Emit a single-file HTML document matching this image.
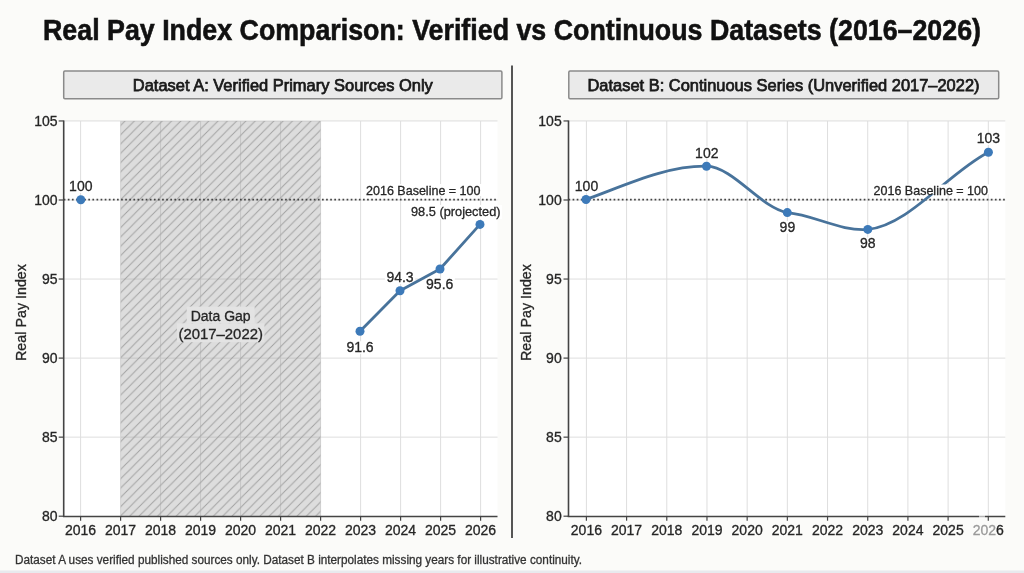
<!DOCTYPE html>
<html><head><meta charset="utf-8"><title>Real Pay Index Comparison</title>
<style>
html,body{margin:0;padding:0;background:#fbfbf9;}
body{width:1024px;height:573px;overflow:hidden;}
svg{display:block;will-change:transform;filter:blur(0.3px);font-family:"Liberation Sans",Arial,sans-serif;}
</style></head><body>
<svg width="1024" height="573" viewBox="0 0 1024 573">
<defs>
<pattern id="hatch" patternUnits="userSpaceOnUse" width="9.3" height="9.3" patternTransform="translate(4.2,0)">
<rect width="9.3" height="9.3" fill="rgb(128,128,128)" fill-opacity="0.27"/>
<path d="M-2,2 L2,-2 M0,9.3 L9.3,0 M7.3,11.3 L11.3,7.3" stroke="#a0a0a0" stroke-width="0.95"/>
</pattern>
</defs>
<rect width="1024" height="573" fill="#fbfbf9"/>
<rect x="0" y="570.5" width="1024" height="2.5" fill="#e8eaee"/>
<rect x="63.70" y="120.95" width="433.80" height="395.25" fill="#ffffff"/>
<line x1="80.60" y1="120.95" x2="80.60" y2="516.20" stroke="#dedede" stroke-width="1"/>
<line x1="120.60" y1="120.95" x2="120.60" y2="516.20" stroke="#dedede" stroke-width="1"/>
<line x1="160.60" y1="120.95" x2="160.60" y2="516.20" stroke="#dedede" stroke-width="1"/>
<line x1="200.60" y1="120.95" x2="200.60" y2="516.20" stroke="#dedede" stroke-width="1"/>
<line x1="240.60" y1="120.95" x2="240.60" y2="516.20" stroke="#dedede" stroke-width="1"/>
<line x1="280.60" y1="120.95" x2="280.60" y2="516.20" stroke="#dedede" stroke-width="1"/>
<line x1="320.60" y1="120.95" x2="320.60" y2="516.20" stroke="#dedede" stroke-width="1"/>
<line x1="360.60" y1="120.95" x2="360.60" y2="516.20" stroke="#dedede" stroke-width="1"/>
<line x1="400.60" y1="120.95" x2="400.60" y2="516.20" stroke="#dedede" stroke-width="1"/>
<line x1="440.60" y1="120.95" x2="440.60" y2="516.20" stroke="#dedede" stroke-width="1"/>
<line x1="480.60" y1="120.95" x2="480.60" y2="516.20" stroke="#dedede" stroke-width="1"/>
<line x1="63.70" y1="120.95" x2="497.50" y2="120.95" stroke="#dedede" stroke-width="1"/>
<line x1="63.70" y1="200.00" x2="497.50" y2="200.00" stroke="#dedede" stroke-width="1"/>
<line x1="63.70" y1="279.05" x2="497.50" y2="279.05" stroke="#dedede" stroke-width="1"/>
<line x1="63.70" y1="358.10" x2="497.50" y2="358.10" stroke="#dedede" stroke-width="1"/>
<line x1="63.70" y1="437.15" x2="497.50" y2="437.15" stroke="#dedede" stroke-width="1"/>
<rect x="120.60" y="120.95" width="200.00" height="395.25" fill="url(#hatch)"/>
<rect x="186.74" y="306.60" width="67.92" height="16.70" fill="#e3e3e3"/><text x="220.70" y="321.10" font-size="14" text-anchor="middle" font-weight="normal" fill="#262626" stroke="#262626" stroke-width="0.3">Data Gap</text>
<rect x="176.95" y="323.30" width="87.50" height="18.90" fill="#e3e3e3"/><text x="220.70" y="338.70" font-size="14" text-anchor="middle" font-weight="normal" fill="#262626" textLength="84.5" lengthAdjust="spacingAndGlyphs" stroke="#262626" stroke-width="0.3">(2017–2022)</text>
<line x1="63.70" y1="199.7" x2="497.50" y2="199.7" stroke="#444444" stroke-width="1.7" stroke-dasharray="1.7 2.4"/>
<rect x="364.50" y="184.00" width="117.50" height="12.00" fill="#ffffff"/><text x="366.00" y="194.50" font-size="12.6" text-anchor="start" font-weight="normal" fill="#262626" textLength="114.5" lengthAdjust="spacingAndGlyphs" stroke="#262626" stroke-width="0.3">2016 Baseline = 100</text>
<line x1="63.70" y1="120.45" x2="63.70" y2="517.00" stroke="#444444" stroke-width="1.6"/>
<line x1="62.90" y1="516.50" x2="497.50" y2="516.50" stroke="#444444" stroke-width="1.6"/>
<line x1="58.70" y1="120.95" x2="63.70" y2="120.95" stroke="#444444" stroke-width="1.2"/>
<text x="57.50" y="125.85" font-size="14" text-anchor="end" font-weight="normal" fill="#262626" stroke="#262626" stroke-width="0.3">105</text>
<line x1="58.70" y1="200.00" x2="63.70" y2="200.00" stroke="#444444" stroke-width="1.2"/>
<text x="57.50" y="204.90" font-size="14" text-anchor="end" font-weight="normal" fill="#262626" stroke="#262626" stroke-width="0.3">100</text>
<line x1="58.70" y1="279.05" x2="63.70" y2="279.05" stroke="#444444" stroke-width="1.2"/>
<text x="57.50" y="283.95" font-size="14" text-anchor="end" font-weight="normal" fill="#262626" stroke="#262626" stroke-width="0.3">95</text>
<line x1="58.70" y1="358.10" x2="63.70" y2="358.10" stroke="#444444" stroke-width="1.2"/>
<text x="57.50" y="363.00" font-size="14" text-anchor="end" font-weight="normal" fill="#262626" stroke="#262626" stroke-width="0.3">90</text>
<line x1="58.70" y1="437.15" x2="63.70" y2="437.15" stroke="#444444" stroke-width="1.2"/>
<text x="57.50" y="442.05" font-size="14" text-anchor="end" font-weight="normal" fill="#262626" stroke="#262626" stroke-width="0.3">85</text>
<line x1="58.70" y1="516.20" x2="63.70" y2="516.20" stroke="#444444" stroke-width="1.2"/>
<text x="57.50" y="521.10" font-size="14" text-anchor="end" font-weight="normal" fill="#262626" stroke="#262626" stroke-width="0.3">80</text>
<line x1="80.60" y1="516.20" x2="80.60" y2="520.70" stroke="#444444" stroke-width="1.2"/>
<text x="80.60" y="534.70" font-size="14" text-anchor="middle" font-weight="normal" fill="#262626" stroke="#262626" stroke-width="0.3">2016</text>
<line x1="120.60" y1="516.20" x2="120.60" y2="520.70" stroke="#444444" stroke-width="1.2"/>
<text x="120.60" y="534.70" font-size="14" text-anchor="middle" font-weight="normal" fill="#262626" stroke="#262626" stroke-width="0.3">2017</text>
<line x1="160.60" y1="516.20" x2="160.60" y2="520.70" stroke="#444444" stroke-width="1.2"/>
<text x="160.60" y="534.70" font-size="14" text-anchor="middle" font-weight="normal" fill="#262626" stroke="#262626" stroke-width="0.3">2018</text>
<line x1="200.60" y1="516.20" x2="200.60" y2="520.70" stroke="#444444" stroke-width="1.2"/>
<text x="200.60" y="534.70" font-size="14" text-anchor="middle" font-weight="normal" fill="#262626" stroke="#262626" stroke-width="0.3">2019</text>
<line x1="240.60" y1="516.20" x2="240.60" y2="520.70" stroke="#444444" stroke-width="1.2"/>
<text x="240.60" y="534.70" font-size="14" text-anchor="middle" font-weight="normal" fill="#262626" stroke="#262626" stroke-width="0.3">2020</text>
<line x1="280.60" y1="516.20" x2="280.60" y2="520.70" stroke="#444444" stroke-width="1.2"/>
<text x="280.60" y="534.70" font-size="14" text-anchor="middle" font-weight="normal" fill="#262626" stroke="#262626" stroke-width="0.3">2021</text>
<line x1="320.60" y1="516.20" x2="320.60" y2="520.70" stroke="#444444" stroke-width="1.2"/>
<text x="320.60" y="534.70" font-size="14" text-anchor="middle" font-weight="normal" fill="#262626" stroke="#262626" stroke-width="0.3">2022</text>
<line x1="360.60" y1="516.20" x2="360.60" y2="520.70" stroke="#444444" stroke-width="1.2"/>
<text x="360.60" y="534.70" font-size="14" text-anchor="middle" font-weight="normal" fill="#262626" stroke="#262626" stroke-width="0.3">2023</text>
<line x1="400.60" y1="516.20" x2="400.60" y2="520.70" stroke="#444444" stroke-width="1.2"/>
<text x="400.60" y="534.70" font-size="14" text-anchor="middle" font-weight="normal" fill="#262626" stroke="#262626" stroke-width="0.3">2024</text>
<line x1="440.60" y1="516.20" x2="440.60" y2="520.70" stroke="#444444" stroke-width="1.2"/>
<text x="440.60" y="534.70" font-size="14" text-anchor="middle" font-weight="normal" fill="#262626" stroke="#262626" stroke-width="0.3">2025</text>
<line x1="480.60" y1="516.20" x2="480.60" y2="520.70" stroke="#444444" stroke-width="1.2"/>
<text x="480.60" y="534.70" font-size="14" text-anchor="middle" font-weight="normal" fill="#262626" stroke="#262626" stroke-width="0.3">2026</text>
<text transform="translate(26.30,312.5) rotate(-90)" x="0" y="0" font-size="14.3" text-anchor="middle" fill="#262626" stroke="#262626" stroke-width="0.3">Real Pay Index</text>
<rect x="67.62" y="180.28" width="26.36" height="12.60" fill="#ffffff"/>
<rect x="344.88" y="341.28" width="30.25" height="12.60" fill="#ffffff"/>
<rect x="384.88" y="271.48" width="30.25" height="12.60" fill="#ffffff"/>
<rect x="424.58" y="277.88" width="30.25" height="12.60" fill="#ffffff"/>
<rect x="409.50" y="205.00" width="92.50" height="14.00" fill="#ffffff"/>
<polyline points="360,331.3 400,290.8 440,269 480,224.4" fill="none" stroke="#48739b" stroke-width="2.8" stroke-linejoin="round"/>
<circle cx="80.8" cy="199.7" r="4.5" fill="#3d7ab9"/>
<circle cx="360" cy="331.3" r="4.5" fill="#3d7ab9"/>
<circle cx="400" cy="290.8" r="4.5" fill="#3d7ab9"/>
<circle cx="440" cy="269" r="4.5" fill="#3d7ab9"/>
<circle cx="480" cy="224.4" r="4.5" fill="#3d7ab9"/>
<text x="80.80" y="191.20" font-size="14" text-anchor="middle" font-weight="normal" fill="#262626" stroke="#262626" stroke-width="0.3">100</text>
<text x="360.00" y="352.20" font-size="14" text-anchor="middle" font-weight="normal" fill="#262626" stroke="#262626" stroke-width="0.3">91.6</text>
<text x="400.00" y="282.40" font-size="14" text-anchor="middle" font-weight="normal" fill="#262626" stroke="#262626" stroke-width="0.3">94.3</text>
<text x="439.70" y="288.80" font-size="14" text-anchor="middle" font-weight="normal" fill="#262626" stroke="#262626" stroke-width="0.3">95.6</text>
<text x="411.00" y="216.00" font-size="12.6" text-anchor="start" font-weight="normal" fill="#262626" textLength="89.5" lengthAdjust="spacingAndGlyphs" stroke="#262626" stroke-width="0.3">98.5 (projected)</text>
<rect x="568.50" y="120.95" width="436.80" height="395.25" fill="#ffffff"/>
<line x1="586.40" y1="120.95" x2="586.40" y2="516.20" stroke="#dedede" stroke-width="1"/>
<line x1="626.59" y1="120.95" x2="626.59" y2="516.20" stroke="#dedede" stroke-width="1"/>
<line x1="666.78" y1="120.95" x2="666.78" y2="516.20" stroke="#dedede" stroke-width="1"/>
<line x1="706.97" y1="120.95" x2="706.97" y2="516.20" stroke="#dedede" stroke-width="1"/>
<line x1="747.16" y1="120.95" x2="747.16" y2="516.20" stroke="#dedede" stroke-width="1"/>
<line x1="787.35" y1="120.95" x2="787.35" y2="516.20" stroke="#dedede" stroke-width="1"/>
<line x1="827.54" y1="120.95" x2="827.54" y2="516.20" stroke="#dedede" stroke-width="1"/>
<line x1="867.73" y1="120.95" x2="867.73" y2="516.20" stroke="#dedede" stroke-width="1"/>
<line x1="907.92" y1="120.95" x2="907.92" y2="516.20" stroke="#dedede" stroke-width="1"/>
<line x1="948.11" y1="120.95" x2="948.11" y2="516.20" stroke="#dedede" stroke-width="1"/>
<line x1="988.30" y1="120.95" x2="988.30" y2="516.20" stroke="#dedede" stroke-width="1"/>
<line x1="568.50" y1="120.95" x2="1005.30" y2="120.95" stroke="#dedede" stroke-width="1"/>
<line x1="568.50" y1="200.00" x2="1005.30" y2="200.00" stroke="#dedede" stroke-width="1"/>
<line x1="568.50" y1="279.05" x2="1005.30" y2="279.05" stroke="#dedede" stroke-width="1"/>
<line x1="568.50" y1="358.10" x2="1005.30" y2="358.10" stroke="#dedede" stroke-width="1"/>
<line x1="568.50" y1="437.15" x2="1005.30" y2="437.15" stroke="#dedede" stroke-width="1"/>
<line x1="568.50" y1="199.7" x2="1005.30" y2="199.7" stroke="#444444" stroke-width="1.7" stroke-dasharray="1.7 2.4"/>
<rect x="573.32" y="180.33" width="26.36" height="12.60" fill="#ffffff"/>
<rect x="693.62" y="146.58" width="26.36" height="12.60" fill="#ffffff"/>
<rect x="778.11" y="220.98" width="18.57" height="12.60" fill="#ffffff"/>
<rect x="858.51" y="237.48" width="18.57" height="12.60" fill="#ffffff"/>
<rect x="975.22" y="132.38" width="26.36" height="12.60" fill="#ffffff"/>
<path d="M586.00,199.50 C626.17,184.88 666.33,165.60 706.50,166.20 C733.43,167.03 760.37,207.62 787.30,212.60 C814.13,214.91 840.97,231.71 867.80,229.40 C908.00,225.86 948.20,172.98 988.40,152.20" fill="none" stroke="#48739b" stroke-width="2.8"/>
<rect x="872.00" y="184.50" width="117.50" height="9.70" fill="#ffffff"/><text x="873.50" y="194.50" font-size="12.6" text-anchor="start" font-weight="normal" fill="#262626" textLength="114.5" lengthAdjust="spacingAndGlyphs" stroke="#262626" stroke-width="0.3">2016 Baseline = 100</text>
<line x1="568.50" y1="120.45" x2="568.50" y2="517.00" stroke="#444444" stroke-width="1.6"/>
<line x1="567.70" y1="516.50" x2="1005.30" y2="516.50" stroke="#444444" stroke-width="1.6"/>
<line x1="563.50" y1="120.95" x2="568.50" y2="120.95" stroke="#444444" stroke-width="1.2"/>
<text x="561.70" y="125.85" font-size="14" text-anchor="end" font-weight="normal" fill="#262626" stroke="#262626" stroke-width="0.3">105</text>
<line x1="563.50" y1="200.00" x2="568.50" y2="200.00" stroke="#444444" stroke-width="1.2"/>
<text x="561.70" y="204.90" font-size="14" text-anchor="end" font-weight="normal" fill="#262626" stroke="#262626" stroke-width="0.3">100</text>
<line x1="563.50" y1="279.05" x2="568.50" y2="279.05" stroke="#444444" stroke-width="1.2"/>
<text x="561.70" y="283.95" font-size="14" text-anchor="end" font-weight="normal" fill="#262626" stroke="#262626" stroke-width="0.3">95</text>
<line x1="563.50" y1="358.10" x2="568.50" y2="358.10" stroke="#444444" stroke-width="1.2"/>
<text x="561.70" y="363.00" font-size="14" text-anchor="end" font-weight="normal" fill="#262626" stroke="#262626" stroke-width="0.3">90</text>
<line x1="563.50" y1="437.15" x2="568.50" y2="437.15" stroke="#444444" stroke-width="1.2"/>
<text x="561.70" y="442.05" font-size="14" text-anchor="end" font-weight="normal" fill="#262626" stroke="#262626" stroke-width="0.3">85</text>
<line x1="563.50" y1="516.20" x2="568.50" y2="516.20" stroke="#444444" stroke-width="1.2"/>
<text x="561.70" y="521.10" font-size="14" text-anchor="end" font-weight="normal" fill="#262626" stroke="#262626" stroke-width="0.3">80</text>
<line x1="586.40" y1="516.20" x2="586.40" y2="520.70" stroke="#444444" stroke-width="1.2"/>
<text x="586.40" y="534.70" font-size="14" text-anchor="middle" font-weight="normal" fill="#262626" stroke="#262626" stroke-width="0.3">2016</text>
<line x1="626.59" y1="516.20" x2="626.59" y2="520.70" stroke="#444444" stroke-width="1.2"/>
<text x="626.59" y="534.70" font-size="14" text-anchor="middle" font-weight="normal" fill="#262626" stroke="#262626" stroke-width="0.3">2017</text>
<line x1="666.78" y1="516.20" x2="666.78" y2="520.70" stroke="#444444" stroke-width="1.2"/>
<text x="666.78" y="534.70" font-size="14" text-anchor="middle" font-weight="normal" fill="#262626" stroke="#262626" stroke-width="0.3">2018</text>
<line x1="706.97" y1="516.20" x2="706.97" y2="520.70" stroke="#444444" stroke-width="1.2"/>
<text x="706.97" y="534.70" font-size="14" text-anchor="middle" font-weight="normal" fill="#262626" stroke="#262626" stroke-width="0.3">2019</text>
<line x1="747.16" y1="516.20" x2="747.16" y2="520.70" stroke="#444444" stroke-width="1.2"/>
<text x="747.16" y="534.70" font-size="14" text-anchor="middle" font-weight="normal" fill="#262626" stroke="#262626" stroke-width="0.3">2020</text>
<line x1="787.35" y1="516.20" x2="787.35" y2="520.70" stroke="#444444" stroke-width="1.2"/>
<text x="787.35" y="534.70" font-size="14" text-anchor="middle" font-weight="normal" fill="#262626" stroke="#262626" stroke-width="0.3">2021</text>
<line x1="827.54" y1="516.20" x2="827.54" y2="520.70" stroke="#444444" stroke-width="1.2"/>
<text x="827.54" y="534.70" font-size="14" text-anchor="middle" font-weight="normal" fill="#262626" stroke="#262626" stroke-width="0.3">2022</text>
<line x1="867.73" y1="516.20" x2="867.73" y2="520.70" stroke="#444444" stroke-width="1.2"/>
<text x="867.73" y="534.70" font-size="14" text-anchor="middle" font-weight="normal" fill="#262626" stroke="#262626" stroke-width="0.3">2023</text>
<line x1="907.92" y1="516.20" x2="907.92" y2="520.70" stroke="#444444" stroke-width="1.2"/>
<text x="907.92" y="534.70" font-size="14" text-anchor="middle" font-weight="normal" fill="#262626" stroke="#262626" stroke-width="0.3">2024</text>
<line x1="948.11" y1="516.20" x2="948.11" y2="520.70" stroke="#444444" stroke-width="1.2"/>
<text x="948.11" y="534.70" font-size="14" text-anchor="middle" font-weight="normal" fill="#262626" stroke="#262626" stroke-width="0.3">2025</text>
<line x1="988.30" y1="516.20" x2="988.30" y2="520.70" stroke="#444444" stroke-width="1.2"/>
<text x="988.30" y="534.7" font-size="14" text-anchor="middle" fill="#262626" stroke="#262626" stroke-width="0.3"><tspan fill="#9a9a9a" stroke="#9a9a9a">202</tspan>6</text>
<rect x="979" y="514.5" width="6" height="4" fill="#ffffff" opacity="0.6"/>
<text transform="translate(531.20,312.5) rotate(-90)" x="0" y="0" font-size="14.3" text-anchor="middle" fill="#262626" stroke="#262626" stroke-width="0.3">Real Pay Index</text>
<circle cx="586.0" cy="199.5" r="4.5" fill="#3d7ab9"/>
<circle cx="706.5" cy="166.2" r="4.5" fill="#3d7ab9"/>
<circle cx="787.3" cy="212.6" r="4.5" fill="#3d7ab9"/>
<circle cx="867.8" cy="229.4" r="4.5" fill="#3d7ab9"/>
<circle cx="988.4" cy="152.2" r="4.5" fill="#3d7ab9"/>
<text x="586.50" y="191.25" font-size="14" text-anchor="middle" font-weight="normal" fill="#262626" stroke="#262626" stroke-width="0.3">100</text>
<text x="706.80" y="157.50" font-size="14" text-anchor="middle" font-weight="normal" fill="#262626" stroke="#262626" stroke-width="0.3">102</text>
<text x="787.40" y="231.90" font-size="14" text-anchor="middle" font-weight="normal" fill="#262626" stroke="#262626" stroke-width="0.3">99</text>
<text x="867.80" y="248.40" font-size="14" text-anchor="middle" font-weight="normal" fill="#262626" stroke="#262626" stroke-width="0.3">98</text>
<text x="988.40" y="143.30" font-size="14" text-anchor="middle" font-weight="normal" fill="#262626" stroke="#262626" stroke-width="0.3">103</text>
<rect x="63.7" y="71" width="438.2" height="27.8" rx="1.2" fill="#eaeaea" stroke="#8a8a8a" stroke-width="1.5"/>
<text x="282.80" y="90.50" font-size="16.5" text-anchor="middle" font-weight="normal" fill="#1a1a1a" textLength="300" lengthAdjust="spacingAndGlyphs" stroke="#1a1a1a" stroke-width="0.75">Dataset A: Verified Primary Sources Only</text>
<rect x="568.8" y="71" width="429.9" height="27.8" rx="1.2" fill="#eaeaea" stroke="#8a8a8a" stroke-width="1.5"/>
<text x="783.50" y="90.50" font-size="16.5" text-anchor="middle" font-weight="normal" fill="#1a1a1a" textLength="392" lengthAdjust="spacingAndGlyphs" stroke="#1a1a1a" stroke-width="0.75">Dataset B: Continuous Series (Unverified 2017–2022)</text>
<line x1="512" y1="65.5" x2="512" y2="538" stroke="#555555" stroke-width="2"/>
<text x="512.00" y="40.10" font-size="30" text-anchor="middle" font-weight="bold" fill="#111111" textLength="938" lengthAdjust="spacingAndGlyphs" stroke="#111111" stroke-width="0.6">Real Pay Index Comparison: Verified vs Continuous Datasets (2016–2026)</text>
<text x="15.00" y="563.70" font-size="12.5" text-anchor="start" font-weight="normal" fill="#333333" textLength="567" lengthAdjust="spacingAndGlyphs" stroke="#333333" stroke-width="0.3">Dataset A uses verified published sources only. Dataset B interpolates missing years for illustrative continuity.</text>
</svg>
</body></html>
